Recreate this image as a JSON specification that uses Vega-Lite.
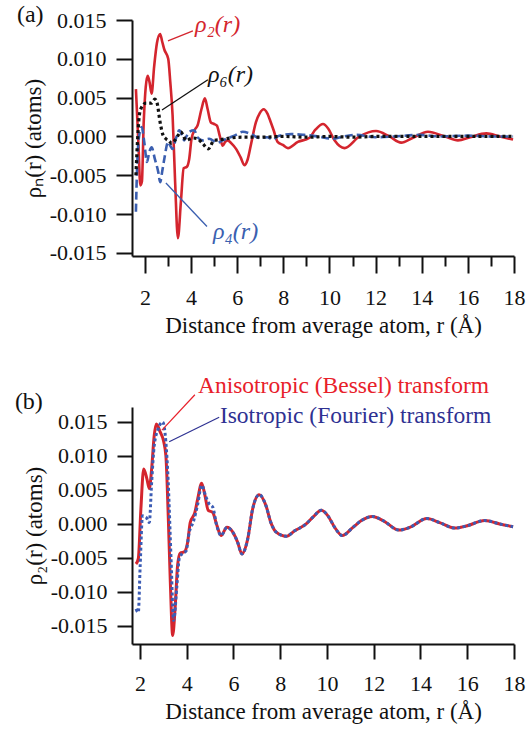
{
  "$schema": "https://vega.github.io/schema/vega-lite/v6.json",
  "padding": {"left": 14, "top": 3, "right": 5, "bottom": 5},
  "background": "white",
  "spacing": 36,
  "datasets": {
    "a": [
      {"s": "rho2", "r": 1.61, "v": 0.0061}, {"s": "rho2", "r": 1.72, "v": -0.001}, {"s": "rho2", "r": 1.8, "v": -0.0063},
      {"s": "rho2", "r": 1.87, "v": -0.0058}, {"s": "rho2", "r": 1.95, "v": 0.002}, {"s": "rho2", "r": 2.12, "v": 0.0078},
      {"s": "rho2", "r": 2.2, "v": 0.007}, {"s": "rho2", "r": 2.29, "v": 0.0055}, {"s": "rho2", "r": 2.4, "v": 0.009},
      {"s": "rho2", "r": 2.52, "v": 0.012}, {"s": "rho2", "r": 2.66, "v": 0.0132}, {"s": "rho2", "r": 2.75, "v": 0.0122},
      {"s": "rho2", "r": 2.84, "v": 0.0112}, {"s": "rho2", "r": 3.01, "v": 0.01}, {"s": "rho2", "r": 3.1, "v": 0.007},
      {"s": "rho2", "r": 3.2, "v": 0.0027}, {"s": "rho2", "r": 3.31, "v": -0.0059}, {"s": "rho2", "r": 3.43, "v": -0.0131},
      {"s": "rho2", "r": 3.56, "v": -0.0084}, {"s": "rho2", "r": 3.68, "v": -0.0041}, {"s": "rho2", "r": 3.82, "v": -0.0039},
      {"s": "rho2", "r": 3.92, "v": -0.0029}, {"s": "rho2", "r": 4.02, "v": -0.0003}, {"s": "rho2", "r": 4.15, "v": 0.0008},
      {"s": "rho2", "r": 4.28, "v": 0.0014}, {"s": "rho2", "r": 4.45, "v": 0.0035}, {"s": "rho2", "r": 4.6, "v": 0.0049},
      {"s": "rho2", "r": 4.72, "v": 0.0035}, {"s": "rho2", "r": 4.86, "v": 0.0018}, {"s": "rho2", "r": 5.0, "v": 0.0016},
      {"s": "rho2", "r": 5.12, "v": 0.0014}, {"s": "rho2", "r": 5.25, "v": 0.0}, {"s": "rho2", "r": 5.37, "v": -0.0012},
      {"s": "rho2", "r": 5.48, "v": -0.0007}, {"s": "rho2", "r": 5.59, "v": -0.0005}, {"s": "rho2", "r": 5.75, "v": -0.0009},
      {"s": "rho2", "r": 5.95, "v": -0.0016}, {"s": "rho2", "r": 6.15, "v": -0.0027}, {"s": "rho2", "r": 6.31, "v": -0.0037},
      {"s": "rho2", "r": 6.45, "v": -0.003}, {"s": "rho2", "r": 6.6, "v": -0.001}, {"s": "rho2", "r": 6.81, "v": 0.0018},
      {"s": "rho2", "r": 6.98, "v": 0.003}, {"s": "rho2", "r": 7.15, "v": 0.0035}, {"s": "rho2", "r": 7.3, "v": 0.003},
      {"s": "rho2", "r": 7.46, "v": 0.0018}, {"s": "rho2", "r": 7.58, "v": 0.0008}, {"s": "rho2", "r": 7.75, "v": -0.0007},
      {"s": "rho2", "r": 7.98, "v": -0.0011}, {"s": "rho2", "r": 8.2, "v": -0.0015}, {"s": "rho2", "r": 8.63, "v": -0.0007},
      {"s": "rho2", "r": 9.12, "v": -0.0002}, {"s": "rho2", "r": 9.4, "v": 0.0009}, {"s": "rho2", "r": 9.72, "v": 0.0016},
      {"s": "rho2", "r": 9.95, "v": 0.001}, {"s": "rho2", "r": 10.22, "v": -0.0005}, {"s": "rho2", "r": 10.65, "v": -0.0015},
      {"s": "rho2", "r": 11.3, "v": 0.0}, {"s": "rho2", "r": 12.02, "v": 0.0007}, {"s": "rho2", "r": 12.6, "v": 0.0},
      {"s": "rho2", "r": 13.11, "v": -0.0008}, {"s": "rho2", "r": 13.6, "v": -0.0002}, {"s": "rho2", "r": 14.27, "v": 0.0006},
      {"s": "rho2", "r": 15.0, "v": 0.0}, {"s": "rho2", "r": 15.57, "v": -0.0005}, {"s": "rho2", "r": 16.1, "v": -0.0001},
      {"s": "rho2", "r": 16.8, "v": 0.0004}, {"s": "rho2", "r": 17.38, "v": 0.0}, {"s": "rho2", "r": 17.96, "v": -0.0004},

      {"s": "rho4", "r": 1.61, "v": -0.0097}, {"s": "rho4", "r": 1.65, "v": -0.005}, {"s": "rho4", "r": 1.75, "v": 0.0001},
      {"s": "rho4", "r": 1.86, "v": 0.0012}, {"s": "rho4", "r": 1.97, "v": -0.0007}, {"s": "rho4", "r": 2.09, "v": -0.0033},
      {"s": "rho4", "r": 2.19, "v": -0.002}, {"s": "rho4", "r": 2.29, "v": -0.0014}, {"s": "rho4", "r": 2.43, "v": -0.0029},
      {"s": "rho4", "r": 2.58, "v": -0.0046}, {"s": "rho4", "r": 2.66, "v": -0.0059}, {"s": "rho4", "r": 2.75, "v": -0.0045},
      {"s": "rho4", "r": 2.84, "v": -0.0029}, {"s": "rho4", "r": 3.01, "v": -0.0007}, {"s": "rho4", "r": 3.1, "v": -0.0012},
      {"s": "rho4", "r": 3.2, "v": -0.0016}, {"s": "rho4", "r": 3.34, "v": -0.0003}, {"s": "rho4", "r": 3.49, "v": 0.0008},
      {"s": "rho4", "r": 3.6, "v": 0.0002}, {"s": "rho4", "r": 3.7, "v": -0.0005}, {"s": "rho4", "r": 3.8, "v": 0.0},
      {"s": "rho4", "r": 3.92, "v": 0.0006}, {"s": "rho4", "r": 4.14, "v": 0.0008}, {"s": "rho4", "r": 4.28, "v": -0.0001},
      {"s": "rho4", "r": 4.5, "v": -0.0005}, {"s": "rho4", "r": 4.78, "v": -0.0003}, {"s": "rho4", "r": 5.15, "v": -0.0008},
      {"s": "rho4", "r": 5.37, "v": -0.0005}, {"s": "rho4", "r": 5.88, "v": 0.0001}, {"s": "rho4", "r": 6.24, "v": 0.0006},
      {"s": "rho4", "r": 6.6, "v": 0.0003}, {"s": "rho4", "r": 6.96, "v": -0.0002}, {"s": "rho4", "r": 7.3, "v": -0.0001},
      {"s": "rho4", "r": 7.55, "v": -0.0004}, {"s": "rho4", "r": 7.75, "v": 0.0}, {"s": "rho4", "r": 8.0, "v": 0.0002},
      {"s": "rho4", "r": 8.34, "v": 0.0003}, {"s": "rho4", "r": 8.9, "v": 0.0002}, {"s": "rho4", "r": 9.5, "v": 0.0},
      {"s": "rho4", "r": 10.15, "v": -0.0003}, {"s": "rho4", "r": 10.6, "v": 0.0}, {"s": "rho4", "r": 11.16, "v": 0.0002},
      {"s": "rho4", "r": 12.0, "v": -0.0001}, {"s": "rho4", "r": 12.8, "v": 0.0}, {"s": "rho4", "r": 13.9, "v": 0.0002},
      {"s": "rho4", "r": 14.8, "v": 0.0}, {"s": "rho4", "r": 16.0, "v": 0.0001}, {"s": "rho4", "r": 17.0, "v": 0.0},
      {"s": "rho4", "r": 17.96, "v": 0.0},

      {"s": "rho6", "r": 1.61, "v": -0.005}, {"s": "rho6", "r": 1.68, "v": -0.0005}, {"s": "rho6", "r": 1.75, "v": 0.0025},
      {"s": "rho6", "r": 1.83, "v": 0.0036}, {"s": "rho6", "r": 2.04, "v": 0.0043}, {"s": "rho6", "r": 2.29, "v": 0.0043},
      {"s": "rho6", "r": 2.43, "v": 0.0048}, {"s": "rho6", "r": 2.52, "v": 0.0044}, {"s": "rho6", "r": 2.66, "v": 0.0018},
      {"s": "rho6", "r": 2.77, "v": 0.0003}, {"s": "rho6", "r": 2.91, "v": -0.0003}, {"s": "rho6", "r": 3.05, "v": -0.0006},
      {"s": "rho6", "r": 3.16, "v": -0.0009}, {"s": "rho6", "r": 3.3, "v": -0.0005}, {"s": "rho6", "r": 3.45, "v": 0.0002},
      {"s": "rho6", "r": 3.56, "v": 0.0006}, {"s": "rho6", "r": 3.68, "v": 0.0}, {"s": "rho6", "r": 3.78, "v": -0.0005},
      {"s": "rho6", "r": 4.07, "v": -0.0002}, {"s": "rho6", "r": 4.28, "v": -0.0003}, {"s": "rho6", "r": 4.5, "v": -0.0009},
      {"s": "rho6", "r": 4.75, "v": -0.0016}, {"s": "rho6", "r": 5.0, "v": -0.0005}, {"s": "rho6", "r": 5.3, "v": -0.0004},
      {"s": "rho6", "r": 5.7, "v": -0.0002}, {"s": "rho6", "r": 6.2, "v": -0.0001}, {"s": "rho6", "r": 7.0, "v": -0.0001},
      {"s": "rho6", "r": 8.0, "v": 0.0}, {"s": "rho6", "r": 9.0, "v": -0.0001}, {"s": "rho6", "r": 10.0, "v": 0.0},
      {"s": "rho6", "r": 11.0, "v": -0.0001}, {"s": "rho6", "r": 12.0, "v": 0.0}, {"s": "rho6", "r": 13.0, "v": 0.0},
      {"s": "rho6", "r": 14.0, "v": 0.0}, {"s": "rho6", "r": 15.0, "v": 0.0}, {"s": "rho6", "r": 16.0, "v": 0.0},
      {"s": "rho6", "r": 17.0, "v": 0.0}, {"s": "rho6", "r": 17.96, "v": 0.0}
    ],
    "labelsA": [
      {"s": "rho2", "r": 4.17, "v": 0.0143, "t": "ρ₂(r)"},
      {"s": "rho6", "r": 4.73, "v": 0.0079, "t": "ρ₆(r)"},
      {"s": "rho4", "r": 4.95, "v": -0.0123, "t": "ρ₄(r)"}
    ],
    "leadersA": [
      {"s": "rho2", "r": 3.0, "v": 0.0123, "r2": 4.08, "v2": 0.0136},
      {"s": "rho6", "r": 2.74, "v": 0.0034, "r2": 4.73, "v2": 0.0073},
      {"s": "rho4", "r": 2.91, "v": -0.006, "r2": 4.69, "v2": -0.0116}
    ],
    "b": [
      {"s": "aniso", "r": 1.83, "v": -0.0059}, {"s": "aniso", "r": 1.93, "v": -0.0051}, {"s": "aniso", "r": 2.04, "v": 0.0022},
      {"s": "aniso", "r": 2.16, "v": 0.0081}, {"s": "aniso", "r": 2.3, "v": 0.0066}, {"s": "aniso", "r": 2.4, "v": 0.0052},
      {"s": "aniso", "r": 2.5, "v": 0.0081}, {"s": "aniso", "r": 2.61, "v": 0.013}, {"s": "aniso", "r": 2.7, "v": 0.0147},
      {"s": "aniso", "r": 2.87, "v": 0.0135}, {"s": "aniso", "r": 3.01, "v": 0.0122}, {"s": "aniso", "r": 3.11, "v": 0.01},
      {"s": "aniso", "r": 3.21, "v": 0.0012}, {"s": "aniso", "r": 3.3, "v": -0.0086}, {"s": "aniso", "r": 3.4, "v": -0.0164},
      {"s": "aniso", "r": 3.51, "v": -0.012}, {"s": "aniso", "r": 3.61, "v": -0.0061}, {"s": "aniso", "r": 3.72, "v": -0.0043},
      {"s": "aniso", "r": 3.9, "v": -0.0041}, {"s": "aniso", "r": 4.04, "v": -0.0027}, {"s": "aniso", "r": 4.15, "v": 0.0002},
      {"s": "aniso", "r": 4.35, "v": 0.0017}, {"s": "aniso", "r": 4.47, "v": 0.0037}, {"s": "aniso", "r": 4.64, "v": 0.006},
      {"s": "aniso", "r": 4.78, "v": 0.0042}, {"s": "aniso", "r": 4.92, "v": 0.002}, {"s": "aniso", "r": 5.11, "v": 0.0017},
      {"s": "aniso", "r": 5.29, "v": -0.0002}, {"s": "aniso", "r": 5.47, "v": -0.0017}, {"s": "aniso", "r": 5.72, "v": -0.0005},
      {"s": "aniso", "r": 5.97, "v": -0.0012}, {"s": "aniso", "r": 6.18, "v": -0.0027}, {"s": "aniso", "r": 6.36, "v": -0.0044},
      {"s": "aniso", "r": 6.61, "v": -0.0022}, {"s": "aniso", "r": 6.82, "v": 0.0022}, {"s": "aniso", "r": 7.1, "v": 0.0043},
      {"s": "aniso", "r": 7.39, "v": 0.0027}, {"s": "aniso", "r": 7.6, "v": 0.0002}, {"s": "aniso", "r": 7.83, "v": -0.0012},
      {"s": "aniso", "r": 8.26, "v": -0.0018}, {"s": "aniso", "r": 8.62, "v": -0.001}, {"s": "aniso", "r": 9.11, "v": 0.0},
      {"s": "aniso", "r": 9.4, "v": 0.001}, {"s": "aniso", "r": 9.76, "v": 0.002}, {"s": "aniso", "r": 10.04, "v": 0.0012},
      {"s": "aniso", "r": 10.33, "v": -0.0005}, {"s": "aniso", "r": 10.65, "v": -0.0017}, {"s": "aniso", "r": 11.11, "v": -0.0005},
      {"s": "aniso", "r": 11.47, "v": 0.0005}, {"s": "aniso", "r": 11.94, "v": 0.0011}, {"s": "aniso", "r": 12.4, "v": 0.0005},
      {"s": "aniso", "r": 13.08, "v": -0.0009}, {"s": "aniso", "r": 13.54, "v": -0.0005}, {"s": "aniso", "r": 14.28, "v": 0.0008},
      {"s": "aniso", "r": 14.82, "v": 0.0002}, {"s": "aniso", "r": 15.46, "v": -0.0006}, {"s": "aniso", "r": 15.96, "v": -0.0003},
      {"s": "aniso", "r": 16.75, "v": 0.0005}, {"s": "aniso", "r": 17.39, "v": 0.0}, {"s": "aniso", "r": 17.96, "v": -0.0004},

      {"s": "iso", "r": 1.83, "v": -0.0125}, {"s": "iso", "r": 1.93, "v": -0.013}, {"s": "iso", "r": 2.01, "v": -0.0061},
      {"s": "iso", "r": 2.11, "v": 0.0012}, {"s": "iso", "r": 2.26, "v": 0.001}, {"s": "iso", "r": 2.4, "v": 0.0002},
      {"s": "iso", "r": 2.5, "v": 0.0061}, {"s": "iso", "r": 2.61, "v": 0.0115}, {"s": "iso", "r": 2.78, "v": 0.014},
      {"s": "iso", "r": 2.97, "v": 0.015}, {"s": "iso", "r": 3.11, "v": 0.012}, {"s": "iso", "r": 3.21, "v": 0.0061},
      {"s": "iso", "r": 3.33, "v": -0.0051}, {"s": "iso", "r": 3.44, "v": -0.0142}, {"s": "iso", "r": 3.58, "v": -0.0091},
      {"s": "iso", "r": 3.68, "v": -0.0051}, {"s": "iso", "r": 3.83, "v": -0.0043}, {"s": "iso", "r": 3.97, "v": -0.004},
      {"s": "iso", "r": 4.11, "v": -0.0012}, {"s": "iso", "r": 4.3, "v": 0.0005}, {"s": "iso", "r": 4.47, "v": 0.0029},
      {"s": "iso", "r": 4.64, "v": 0.0057}, {"s": "iso", "r": 4.82, "v": 0.004}, {"s": "iso", "r": 4.95, "v": 0.003},
      {"s": "iso", "r": 5.11, "v": 0.0025}, {"s": "iso", "r": 5.29, "v": -0.0003}, {"s": "iso", "r": 5.47, "v": -0.0017},
      {"s": "iso", "r": 5.72, "v": -0.0005}, {"s": "iso", "r": 5.97, "v": -0.0012}, {"s": "iso", "r": 6.18, "v": -0.0027},
      {"s": "iso", "r": 6.36, "v": -0.0044}, {"s": "iso", "r": 6.61, "v": -0.0022}, {"s": "iso", "r": 6.82, "v": 0.0022},
      {"s": "iso", "r": 7.1, "v": 0.0043}, {"s": "iso", "r": 7.39, "v": 0.0027}, {"s": "iso", "r": 7.6, "v": 0.0002},
      {"s": "iso", "r": 7.83, "v": -0.0012}, {"s": "iso", "r": 8.26, "v": -0.0018}, {"s": "iso", "r": 8.62, "v": -0.001},
      {"s": "iso", "r": 9.11, "v": 0.0}, {"s": "iso", "r": 9.4, "v": 0.001}, {"s": "iso", "r": 9.76, "v": 0.002},
      {"s": "iso", "r": 10.04, "v": 0.0012}, {"s": "iso", "r": 10.33, "v": -0.0005}, {"s": "iso", "r": 10.65, "v": -0.0017},
      {"s": "iso", "r": 11.11, "v": -0.0005}, {"s": "iso", "r": 11.47, "v": 0.0005}, {"s": "iso", "r": 11.94, "v": 0.0011},
      {"s": "iso", "r": 12.4, "v": 0.0005}, {"s": "iso", "r": 13.08, "v": -0.0009}, {"s": "iso", "r": 13.54, "v": -0.0005},
      {"s": "iso", "r": 14.28, "v": 0.0008}, {"s": "iso", "r": 14.82, "v": 0.0002}, {"s": "iso", "r": 15.46, "v": -0.0006},
      {"s": "iso", "r": 15.96, "v": -0.0003}, {"s": "iso", "r": 16.75, "v": 0.0005}, {"s": "iso", "r": 17.39, "v": 0.0},
      {"s": "iso", "r": 17.96, "v": -0.0004}
    ],
    "labelsB": [
      {"s": "aniso", "r": 4.48, "v": 0.0203, "t": "Anisotropic (Bessel) transform"},
      {"s": "iso", "r": 5.42, "v": 0.0159, "t": "Isotropic (Fourier) transform"}
    ],
    "leadersB": [
      {"s": "aniso", "r": 2.94, "v": 0.0138, "r2": 4.35, "v2": 0.019},
      {"s": "iso", "r": 3.25, "v": 0.0121, "r2": 5.39, "v2": 0.0157}
    ],
    "tags": [
      {"p": "a", "r": -3.55, "v": 0.0156, "t": "(a)"},
      {"p": "b", "r": -3.35, "v": 0.0179, "t": "(b)"}
    ]
  },
  "vconcat": [
    {
      "width": 382,
      "height": 236,
      "encoding": {
        "x": {
          "field": "r", "type": "quantitative",
          "scale": {"domain": [1.44, 18], "nice": false, "zero": false},
          "axis": {
            "values": [2, 3, 4, 5, 6, 7, 8, 9, 10, 11, 12, 13, 14, 15, 16, 17, 18],
            "tickSize": {"condition": {"test": "datum.value % 2 === 0", "value": 17}, "value": 10},
            "labelExpr": "datum.value % 2 === 0 ? datum.label : ''",
            "labelPadding": 14,
            "title": "Distance from average atom, r (Å)",
            "titlePadding": 6
          }
        },
        "y": {
          "field": "v", "type": "quantitative",
          "scale": {"domain": [-0.0154, 0.015], "nice": false, "zero": false},
          "axis": {
            "values": [-0.015, -0.01, -0.005, 0, 0.005, 0.01, 0.015],
            "labelExpr": "replace(format(datum.value, '.3f'), '−', '-')",
            "tickSize": 16,
            "labelPadding": 10,
            "title": "ρₙ(r) (atoms)",
            "titlePadding": 4
          }
        },
        "color": {
          "field": "s", "type": "nominal",
          "scale": {"domain": ["rho2", "rho4", "rho6"], "range": ["#d4252e", "#3b5fb0", "#111111"]},
          "legend": null
        }
      },
      "layer": [
        {
          "data": {"name": "a"},
          "transform": [{"filter": "datum.s === 'rho2'"}],
          "mark": {"type": "line", "interpolate": "monotone", "strokeWidth": 2.6}
        },
        {
          "data": {"name": "a"},
          "transform": [{"filter": "datum.s === 'rho4'"}],
          "mark": {"type": "line", "interpolate": "monotone", "strokeWidth": 2.6, "strokeDash": [8, 4]}
        },
        {
          "data": {"name": "a"},
          "transform": [{"filter": "datum.s === 'rho6'"}],
          "mark": {"type": "line", "interpolate": "monotone", "strokeWidth": 3.2, "strokeDash": [3, 3]}
        },
        {
          "data": {"name": "leadersA"},
          "mark": {"type": "rule", "strokeWidth": 1.3},
          "encoding": {"x2": {"field": "r2"}, "y2": {"field": "v2"}}
        },
        {
          "data": {"name": "labelsA"},
          "mark": {"type": "text", "align": "left", "baseline": "middle", "font": "Liberation Serif", "fontSize": 24, "fontStyle": "italic"},
          "encoding": {"text": {"field": "t"}}
        },
        {
          "data": {"name": "tags"},
          "transform": [{"filter": "datum.p === 'a'"}],
          "mark": {"type": "text", "align": "left", "baseline": "middle", "font": "Liberation Serif", "fontSize": 24},
          "encoding": {"text": {"field": "t"}, "color": {"value": "#111111"}}
        }
      ]
    },
    {
      "width": 382,
      "height": 237,
      "encoding": {
        "x": {
          "field": "r", "type": "quantitative",
          "scale": {"domain": [1.66, 18], "nice": false, "zero": false},
          "axis": {
            "values": [2, 4, 6, 8, 10, 12, 14, 16, 18],
            "tickSize": 15,
            "labelPadding": 14,
            "title": "Distance from average atom, r (Å)",
            "titlePadding": 6
          }
        },
        "y": {
          "field": "v", "type": "quantitative",
          "scale": {"domain": [-0.01765, 0.0172], "nice": false, "zero": false},
          "axis": {
            "values": [-0.015, -0.01, -0.005, 0, 0.005, 0.01, 0.015],
            "labelExpr": "replace(format(datum.value, '.3f'), '−', '-')",
            "tickSize": 15,
            "labelPadding": 10,
            "title": "ρ₂(r) (atoms)",
            "titlePadding": 4
          }
        }
      },
      "layer": [
        {
          "data": {"name": "b"},
          "transform": [{"filter": "datum.s === 'aniso'"}],
          "mark": {"type": "line", "interpolate": "monotone", "strokeWidth": 3, "color": "#d4252e"}
        },
        {
          "data": {"name": "b"},
          "transform": [{"filter": "datum.s === 'iso'"}],
          "mark": {"type": "line", "interpolate": "monotone", "strokeWidth": 3, "strokeDash": [3, 2.5], "color": "#3c5cb4"}
        },
        {
          "data": {"name": "leadersB"},
          "transform": [{"filter": "datum.s === 'aniso'"}],
          "mark": {"type": "rule", "strokeWidth": 1.2, "color": "#e8202a"},
          "encoding": {"x2": {"field": "r2"}, "y2": {"field": "v2"}}
        },
        {
          "data": {"name": "leadersB"},
          "transform": [{"filter": "datum.s === 'iso'"}],
          "mark": {"type": "rule", "strokeWidth": 1.2, "color": "#2e3192"},
          "encoding": {"x2": {"field": "r2"}, "y2": {"field": "v2"}}
        },
        {
          "data": {"name": "labelsB"},
          "transform": [{"filter": "datum.s === 'aniso'"}],
          "mark": {"type": "text", "align": "left", "baseline": "middle", "font": "Liberation Serif", "fontSize": 23.5, "color": "#e8202a"},
          "encoding": {"text": {"field": "t"}}
        },
        {
          "data": {"name": "labelsB"},
          "transform": [{"filter": "datum.s === 'iso'"}],
          "mark": {"type": "text", "align": "left", "baseline": "middle", "font": "Liberation Serif", "fontSize": 23.5, "color": "#2e3192"},
          "encoding": {"text": {"field": "t"}}
        },
        {
          "data": {"name": "tags"},
          "transform": [{"filter": "datum.p === 'b'"}],
          "mark": {"type": "text", "align": "left", "baseline": "middle", "font": "Liberation Serif", "fontSize": 24, "color": "#111111"},
          "encoding": {"text": {"field": "t"}}
        }
      ]
    }
  ],
  "config": {
    "view": {"stroke": null},
    "font": "Liberation Serif",
    "axis": {
      "grid": false,
      "domainColor": "#111111",
      "domainWidth": 2,
      "tickColor": "#111111",
      "tickWidth": 2,
      "labelColor": "#111111",
      "titleColor": "#111111",
      "labelFont": "Liberation Serif",
      "titleFont": "Liberation Serif",
      "labelFontSize": 22,
      "titleFontSize": 23,
      "titleFontWeight": "normal",
      "labelFlush": false
    }
  }
}
